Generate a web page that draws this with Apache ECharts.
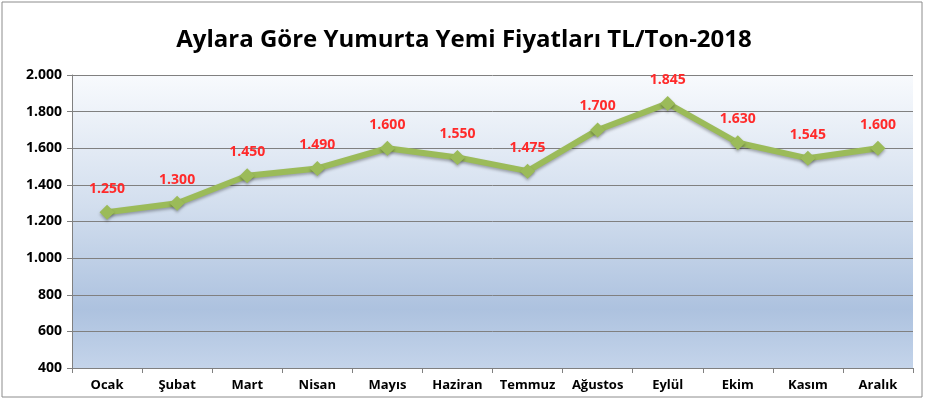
<!DOCTYPE html>
<html><head><meta charset="utf-8">
<script src="https://cdn.jsdelivr.net/npm/echarts@6/dist/echarts.min.js"></script>
<style>html,body{margin:0;padding:0;background:#fff}#c{width:928px;height:401px}</style>
</head><body><div id="c"></div>
<script>
const categories = ["Ocak","Şubat","Mart","Nisan","Mayıs","Haziran","Temmuz","Ağustos","Eylül","Ekim","Kasım","Aralık"];
const prices = [1250,1300,1450,1490,1600,1550,1475,1700,1845,1630,1545,1600];
const yTicks = [400,600,800,1000,1200,1400,1600,1800,2000];
const titleText = "Aylara Göre Yumurta Yemi Fiyatları TL/Ton-2018";

const fmt = v => String(v).replace(/\B(?=(\d{3})+(?!\d))/g, ".");
const FONT = 'Open Sans';
const chart = echarts.init(document.getElementById('c'), null, {renderer:'canvas'});
chart.setOption({
  animation:false,
  backgroundColor:'#fff',
  graphic:[{type:'rect',shape:{x:2,y:2,width:920,height:395},style:{fill:'none',stroke:'#8c8c8c',lineWidth:1},silent:true}],
  title:{text:titleText,left:'center',top:23,textStyle:{fontFamily:FONT,fontWeight:'bold',fontSize:24,color:'#000'}},
  grid:{left:72,right:15,top:75,bottom:33,show:true,borderWidth:0,
    backgroundColor:{type:'linear',x:0,y:0,x2:0,y2:1,colorStops:[{offset:0,color:'#f8fafd'},{offset:0.45,color:'#d2deee'},{offset:0.8,color:'#adc2df'},{offset:1,color:'#c4d4ea'}]}},
  xAxis:{type:'category',data:categories,boundaryGap:true,
    axisLine:{lineStyle:{color:'#808080'}},
    axisTick:{show:true,length:5,interval:0,lineStyle:{color:'#808080'}},
    axisLabel:{interval:0,color:'#000',fontWeight:'bold',fontSize:13,fontFamily:FONT,margin:11}},
  yAxis:{type:'value',min:400,max:2000,interval:200,
    axisLine:{show:true,lineStyle:{color:'#808080'}},
    axisTick:{show:true,length:5,lineStyle:{color:'#808080'}},
    splitLine:{lineStyle:{color:'#808080',width:1}},
    axisLabel:{color:'#000',fontWeight:'bold',fontSize:14,fontFamily:FONT,margin:10,formatter:v=>yTicks.includes(v)?fmt(v):''}},
  series:[{type:'line',data:prices,symbol:'diamond',symbolSize:15,
    lineStyle:{color:'#9bbb59',width:6,shadowColor:'rgba(0,0,0,0.3)',shadowBlur:3,shadowOffsetY:2},
    itemStyle:{color:'#9bbb59',shadowColor:'rgba(0,0,0,0.3)',shadowBlur:3,shadowOffsetY:2},
    label:{show:true,position:'top',distance:9,color:'#ff2a2a',fontWeight:'bold',fontSize:14,fontFamily:FONT,formatter:p=>fmt(p.value)}}]
});
</script></body></html>
